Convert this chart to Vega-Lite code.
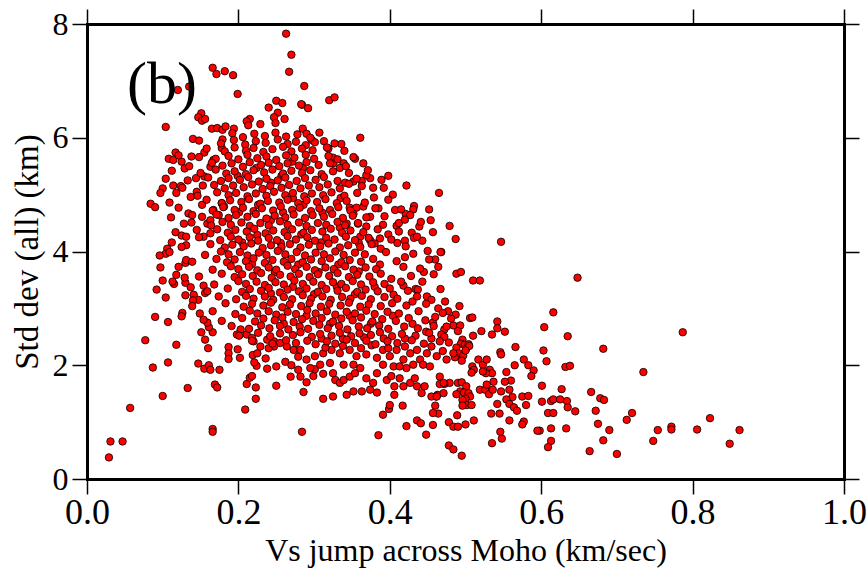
{
"$schema":"https://vega.github.io/schema/vega-lite/v6.json",
"width":757,"height":455,"autosize":"none",
"padding":{"left":87,"top":24,"right":24,"bottom":90},
"background":"white",
"config":{"view":{"stroke":null},"font":"Times New Roman, Liberation Serif, Times, DejaVu Serif, serif","axis":{"domainColor":"black","domainWidth":3,"domainCap":"square","tickColor":"black","tickWidth":1.5,"tickSize":15,"grid":false,"labelFont":"Times New Roman, Liberation Serif, Times, DejaVu Serif, serif","labelColor":"black","titleFont":"Times New Roman, Liberation Serif, Times, DejaVu Serif, serif","titleColor":"black","titleFontWeight":"normal","labelFlush":false,"labelOverlap":false,"labelBound":false}},
"datasets":{
"lbl":[{"label":"(b)","x":0.053,"y":6.61}],
"pts":[
{"x":0.648,"y":3.54},{"x":0.616,"y":2.93},{"x":0.604,"y":2.67},{"x":0.635,"y":2.51},{"x":0.603,"y":2.26},{"x":0.682,"y":2.29},{"x":0.787,"y":2.58},{"x":0.607,"y":2.07},{"x":0.632,"y":1.97},{"x":0.638,"y":1.99},{"x":0.735,"y":1.88},{"x":0.601,"y":1.64},{"x":0.627,"y":1.58},{"x":0.666,"y":1.53},{"x":0.601,"y":1.36},{"x":0.613,"y":1.37},{"x":0.616,"y":1.40},{"x":0.625,"y":1.40},{"x":0.634,"y":1.37},{"x":0.678,"y":1.42},{"x":0.683,"y":1.39},{"x":0.635,"y":1.26},{"x":0.609,"y":1.16},{"x":0.616,"y":1.16},{"x":0.645,"y":1.19},{"x":0.672,"y":1.20},{"x":0.720,"y":1.16},{"x":0.713,"y":1.04},{"x":0.823,"y":1.07},{"x":0.598,"y":0.85},{"x":0.613,"y":0.89},{"x":0.633,"y":0.89},{"x":0.675,"y":0.97},{"x":0.690,"y":0.86},{"x":0.754,"y":0.86},{"x":0.772,"y":0.92},{"x":0.772,"y":0.87},{"x":0.806,"y":0.87},{"x":0.862,"y":0.86},{"x":0.613,"y":0.67},{"x":0.609,"y":0.56},{"x":0.682,"y":0.68},{"x":0.748,"y":0.67},{"x":0.849,"y":0.62},{"x":0.664,"y":0.49},{"x":0.700,"y":0.44},
{"x":0.473,"y":3.12},{"x":0.464,"y":3.00},{"x":0.477,"y":2.95},{"x":0.487,"y":2.89},{"x":0.457,"y":2.75},{"x":0.506,"y":2.83},{"x":0.509,"y":2.84},{"x":0.484,"y":2.70},{"x":0.493,"y":2.70},{"x":0.521,"y":2.60},{"x":0.510,"y":2.52},{"x":0.542,"y":2.77},{"x":0.542,"y":2.65},{"x":0.552,"y":2.59},{"x":0.535,"y":2.54},{"x":0.472,"y":2.63},{"x":0.468,"y":2.54},{"x":0.472,"y":2.50},{"x":0.475,"y":2.68},
{"x":0.496,"y":2.45},{"x":0.494,"y":2.38},{"x":0.499,"y":2.36},{"x":0.504,"y":2.37},{"x":0.501,"y":2.29},{"x":0.505,"y":2.34},{"x":0.488,"y":2.31},{"x":0.491,"y":2.21},{"x":0.497,"y":2.17},{"x":0.486,"y":2.14},{"x":0.495,"y":2.08},{"x":0.500,"y":2.26},
{"x":0.546,"y":2.23},{"x":0.547,"y":2.19},{"x":0.566,"y":2.32},{"x":0.577,"y":2.10},{"x":0.583,"y":2.00},{"x":0.590,"y":1.91},{"x":0.587,"y":1.81},{"x":0.565,"y":2.00},{"x":0.554,"y":1.88},{"x":0.560,"y":1.73},{"x":0.552,"y":1.71},{"x":0.547,"y":1.54},{"x":0.558,"y":1.57},{"x":0.562,"y":1.44},{"x":0.575,"y":1.45},{"x":0.583,"y":1.46},{"x":0.580,"y":1.30},{"x":0.554,"y":1.40},{"x":0.558,"y":1.32},{"x":0.564,"y":1.26},{"x":0.568,"y":1.20},{"x":0.542,"y":1.32},{"x":0.534,"y":1.15},{"x":0.545,"y":1.15},{"x":0.558,"y":1.03},{"x":0.577,"y":1.01},{"x":0.575,"y":0.96},{"x":0.595,"y":0.85},{"x":0.548,"y":0.71},{"x":0.546,"y":0.83},{"x":0.535,"y":0.63},
{"x":0.517,"y":2.10},{"x":0.523,"y":2.01},{"x":0.528,"y":2.10},{"x":0.532,"y":1.92},{"x":0.535,"y":1.86},{"x":0.527,"y":1.86},{"x":0.523,"y":1.89},{"x":0.509,"y":1.98},{"x":0.511,"y":1.92},{"x":0.508,"y":1.87},
{"x":0.519,"y":1.57},{"x":0.526,"y":1.57},{"x":0.531,"y":1.49},{"x":0.536,"y":1.57},{"x":0.537,"y":1.71},{"x":0.528,"y":1.66},
{"x":0.490,"y":1.69},{"x":0.495,"y":1.70},{"x":0.501,"y":1.63},{"x":0.493,"y":1.54},{"x":0.498,"y":1.52},{"x":0.504,"y":1.51},{"x":0.506,"y":1.45},{"x":0.500,"y":1.41},{"x":0.496,"y":1.39},{"x":0.488,"y":1.49},{"x":0.502,"y":1.30},{"x":0.508,"y":1.30},{"x":0.496,"y":1.29},
{"x":0.479,"y":1.69},{"x":0.472,"y":1.67},{"x":0.466,"y":1.67},{"x":0.463,"y":1.48},{"x":0.461,"y":1.45},{"x":0.471,"y":1.51},{"x":0.460,"y":1.29},{"x":0.464,"y":1.15},{"x":0.457,"y":1.16},{"x":0.457,"y":0.95},{"x":0.448,"y":0.78},{"x":0.478,"y":1.00},{"x":0.489,"y":1.12},{"x":0.484,"y":0.92},{"x":0.490,"y":0.92},{"x":0.500,"y":0.96},{"x":0.511,"y":1.03},{"x":0.478,"y":0.59},{"x":0.484,"y":0.52},{"x":0.495,"y":0.41},
{"x":0.436,"y":1.03},{"x":0.441,"y":0.98},{"x":0.422,"y":0.93},{"x":0.385,"y":0.77},{"x":0.391,"y":1.13},{"x":0.399,"y":1.23},{"x":0.400,"y":1.30},{"x":0.417,"y":1.29},{"x":0.284,"y":0.83},{"x":0.312,"y":1.41},{"x":0.286,"y":1.53},
{"x":0.450,"y":4.01},{"x":0.460,"y":3.86},{"x":0.464,"y":3.73},{"x":0.468,"y":3.99},{"x":0.488,"y":3.61},{"x":0.494,"y":3.64},{"x":0.510,"y":3.49},{"x":0.519,"y":3.49},{"x":0.445,"y":3.64},{"x":0.443,"y":3.47},{"x":0.449,"y":3.21},{"x":0.434,"y":3.34},{"x":0.437,"y":3.33},
{"x":0.325,"y":1.45},{"x":0.343,"y":1.48},{"x":0.352,"y":1.54},{"x":0.363,"y":1.54},{"x":0.374,"y":1.57},{"x":0.383,"y":1.52},
{"x":0.299,"y":1.81},{"x":0.301,"y":1.93},{"x":0.312,"y":1.85},{"x":0.325,"y":1.86},{"x":0.328,"y":1.74},{"x":0.334,"y":1.69},{"x":0.339,"y":1.74},{"x":0.347,"y":1.80},{"x":0.354,"y":1.86},{"x":0.361,"y":1.95},{"x":0.369,"y":1.77},{"x":0.378,"y":1.69},{"x":0.383,"y":1.86},{"x":0.396,"y":1.74},{"x":0.402,"y":1.81},{"x":0.406,"y":1.63},{"x":0.406,"y":1.48},{"x":0.413,"y":1.77},{"x":0.418,"y":1.63},{"x":0.427,"y":1.69},{"x":0.433,"y":1.77},{"x":0.436,"y":1.63},{"x":0.442,"y":1.51},{"x":0.446,"y":1.63},{"x":0.455,"y":1.45},{"x":0.462,"y":1.45},{"x":0.466,"y":1.80},{"x":0.471,"y":1.69},
{"x":0.290,"y":2.10},{"x":0.301,"y":2.16},{"x":0.312,"y":2.21},{"x":0.323,"y":2.27},{"x":0.334,"y":2.21},{"x":0.347,"y":2.27},{"x":0.356,"y":2.16},{"x":0.369,"y":2.19},{"x":0.383,"y":2.13},{"x":0.391,"y":2.27},{"x":0.400,"y":2.16},{"x":0.409,"y":2.27},{"x":0.418,"y":2.10},{"x":0.427,"y":2.21},{"x":0.436,"y":2.27},{"x":0.440,"y":2.10},{"x":0.449,"y":2.21},{"x":0.455,"y":2.33},{"x":0.462,"y":2.16},{"x":0.475,"y":2.10},{"x":0.484,"y":2.21},{"x":0.391,"y":2.01},{"x":0.405,"y":1.98},{"x":0.422,"y":1.95},{"x":0.431,"y":2.01},{"x":0.444,"y":2.01},{"x":0.453,"y":1.98},{"x":0.413,"y":1.98},{"x":0.339,"y":2.01},{"x":0.321,"y":2.04},{"x":0.308,"y":2.01},{"x":0.352,"y":2.01},
{"x":0.315,"y":2.31},{"x":0.338,"y":2.34},{"x":0.362,"y":2.30},{"x":0.376,"y":2.35},{"x":0.420,"y":2.33},{"x":0.398,"y":2.30},
{"x":0.547,"y":4.17},{"x":0.465,"y":5.03},{"x":0.479,"y":4.45},{"x":0.487,"y":4.22},
{"x":0.452,"y":4.74},{"x":0.454,"y":4.55},{"x":0.457,"y":4.34},{"x":0.439,"y":4.44},{"x":0.429,"y":4.33},{"x":0.432,"y":4.24},{"x":0.420,"y":4.19},{"x":0.443,"y":4.19},{"x":0.467,"y":3.99},{"x":0.410,"y":4.15},{"x":0.409,"y":4.45},{"x":0.412,"y":4.50},{"x":0.421,"y":4.66},{"x":0.432,"y":4.80},{"x":0.431,"y":4.74},{"x":0.420,"y":4.56},{"x":0.407,"y":4.73},{"x":0.393,"y":4.62},{"x":0.385,"y":4.76},{"x":0.378,"y":5.12},{"x":0.379,"y":4.95},{"x":0.398,"y":5.33},{"x":0.422,"y":5.16},{"x":0.374,"y":5.29},
{"x":0.287,"y":6.91},{"x":0.320,"y":6.66},{"x":0.327,"y":6.71},{"x":0.284,"y":6.58},{"x":0.292,"y":6.52},{"x":0.285,"y":6.16},{"x":0.307,"y":6.09},{"x":0.290,"y":6.07},{"x":0.297,"y":5.96},{"x":0.301,"y":5.92},{"x":0.361,"y":6.00},{"x":0.336,"y":5.89},{"x":0.319,"y":5.81},{"x":0.354,"y":5.63},{"x":0.365,"y":5.55},{"x":0.325,"y":5.65},{"x":0.325,"y":5.55},{"x":0.339,"y":5.55},{"x":0.334,"y":5.47},{"x":0.369,"y":5.34},{"x":0.363,"y":5.24},{"x":0.352,"y":5.23},{"x":0.341,"y":5.21},{"x":0.346,"y":5.19},
{"x":0.347,"y":4.77},{"x":0.356,"y":4.77},{"x":0.352,"y":4.66},{"x":0.365,"y":4.79},{"x":0.369,"y":4.44},{"x":0.374,"y":4.61},{"x":0.358,"y":4.49},{"x":0.343,"y":4.49},{"x":0.361,"y":4.26},{"x":0.374,"y":4.20},{"x":0.387,"y":4.23},{"x":0.380,"y":4.14},
{"x":0.263,"y":7.83},{"x":0.270,"y":7.46},{"x":0.267,"y":7.16},{"x":0.166,"y":7.23},{"x":0.171,"y":7.12},{"x":0.182,"y":7.17},{"x":0.193,"y":7.10},{"x":0.199,"y":6.77},{"x":0.135,"y":6.90},{"x":0.120,"y":6.84},
{"x":0.283,"y":6.59},{"x":0.250,"y":6.65},{"x":0.258,"y":6.61},{"x":0.240,"y":6.53},{"x":0.252,"y":6.44},{"x":0.247,"y":6.36},{"x":0.261,"y":6.33},{"x":0.249,"y":6.26},{"x":0.229,"y":6.24},{"x":0.215,"y":6.33},{"x":0.211,"y":6.29},{"x":0.213,"y":6.22},
{"x":0.151,"y":6.43},{"x":0.147,"y":6.36},{"x":0.152,"y":6.30},{"x":0.156,"y":6.33},{"x":0.104,"y":6.19},
{"x":0.165,"y":6.16},{"x":0.172,"y":6.17},{"x":0.179,"y":6.14},{"x":0.183,"y":6.20},{"x":0.194,"y":6.16},
{"x":0.140,"y":5.98},{"x":0.178,"y":5.82},{"x":0.179,"y":5.97},
{"x":0.117,"y":5.74},{"x":0.108,"y":5.63},{"x":0.114,"y":5.61},{"x":0.125,"y":5.58},{"x":0.129,"y":5.46},{"x":0.138,"y":5.67},{"x":0.155,"y":5.74},{"x":0.148,"y":5.66},
{"x":0.104,"y":5.28},{"x":0.100,"y":5.11},{"x":0.097,"y":5.03},{"x":0.114,"y":5.16},{"x":0.124,"y":5.15},{"x":0.084,"y":4.84},{"x":0.090,"y":4.78},
{"x":0.144,"y":5.29},{"x":0.153,"y":5.16},{"x":0.155,"y":5.32},{"x":0.137,"y":4.96},{"x":0.145,"y":5.05},{"x":0.163,"y":5.49},{"x":0.167,"y":5.61},
{"x":0.128,"y":4.49},{"x":0.134,"y":4.67},{"x":0.139,"y":4.64},{"x":0.125,"y":4.28},{"x":0.131,"y":4.26},{"x":0.112,"y":4.16},{"x":0.131,"y":4.11},{"x":0.106,"y":4.05},{"x":0.104,"y":3.96},
{"x":0.152,"y":4.82},{"x":0.152,"y":4.61},{"x":0.159,"y":4.49},{"x":0.163,"y":4.55},{"x":0.145,"y":4.38},{"x":0.154,"y":4.26},{"x":0.163,"y":4.32},{"x":0.167,"y":4.73},{"x":0.178,"y":4.85},{"x":0.181,"y":4.79},{"x":0.174,"y":4.64},
{"x":0.029,"y":0.38},{"x":0.031,"y":0.66},{"x":0.047,"y":0.66},{"x":0.057,"y":1.25},{"x":0.100,"y":1.46},
{"x":0.087,"y":1.96},{"x":0.107,"y":2.05},{"x":0.077,"y":2.44},{"x":0.118,"y":2.36},{"x":0.090,"y":2.85},{"x":0.107,"y":2.76},{"x":0.104,"y":3.19},{"x":0.092,"y":3.33},{"x":0.100,"y":3.49},{"x":0.115,"y":3.43},{"x":0.097,"y":3.72},{"x":0.096,"y":3.93},
{"x":0.133,"y":1.60},{"x":0.169,"y":1.66},{"x":0.172,"y":1.61},{"x":0.166,"y":0.88},{"x":0.166,"y":0.83},
{"x":0.209,"y":1.22},{"x":0.223,"y":1.41},{"x":0.223,"y":1.61},{"x":0.211,"y":1.67},{"x":0.215,"y":1.78},{"x":0.218,"y":1.81},{"x":0.250,"y":1.64},{"x":0.238,"y":1.94},{"x":0.224,"y":1.99},{"x":0.221,"y":2.05},{"x":0.219,"y":2.18},{"x":0.225,"y":2.21},
{"x":0.147,"y":2.03},{"x":0.155,"y":1.94},{"x":0.161,"y":2.00},{"x":0.163,"y":1.92},{"x":0.175,"y":1.92},
{"x":0.187,"y":2.32},{"x":0.187,"y":2.21},{"x":0.187,"y":2.11},{"x":0.199,"y":2.28},{"x":0.202,"y":2.13},
{"x":0.151,"y":2.58},{"x":0.156,"y":2.45},{"x":0.160,"y":2.30},{"x":0.166,"y":2.58},{"x":0.161,"y":2.67},{"x":0.159,"y":2.75},{"x":0.154,"y":2.80},{"x":0.149,"y":2.91},{"x":0.126,"y":2.92},{"x":0.125,"y":2.86},
{"x":0.130,"y":3.23},{"x":0.141,"y":3.24},{"x":0.147,"y":3.15},{"x":0.140,"y":3.14},{"x":0.156,"y":3.27},{"x":0.154,"y":3.40},{"x":0.130,"y":3.45},{"x":0.137,"y":3.37},{"x":0.129,"y":3.54},{"x":0.130,"y":3.80},{"x":0.131,"y":3.85},{"x":0.118,"y":3.59},
{"x":0.282,"y":1.80},{"x":0.269,"y":1.80},
{"x":0.211,"y":2.54},{"x":0.218,"y":2.48},{"x":0.220,"y":2.42},{"x":0.238,"y":2.45},{"x":0.247,"y":2.42},{"x":0.255,"y":2.39},{"x":0.264,"y":2.33},{"x":0.273,"y":2.27},{"x":0.282,"y":2.27},{"x":0.247,"y":2.33},{"x":0.240,"y":2.30},{"x":0.229,"y":2.33},{"x":0.203,"y":2.63},{"x":0.198,"y":2.54},{"x":0.236,"y":2.12},{"x":0.262,"y":2.06},{"x":0.279,"y":2.15},{"x":0.250,"y":1.98},{"x":0.290,"y":1.70},{"x":0.295,"y":1.95},{"x":0.279,"y":1.92},{"x":0.270,"y":2.00},
{"x":0.224,"y":5.47},{"x":0.257,"y":5.33},{"x":0.285,"y":5.47},{"x":0.199,"y":5.33},{"x":0.243,"y":5.21},{"x":0.271,"y":5.58},
{"x":0.226,"y":4.82},{"x":0.259,"y":4.69},{"x":0.286,"y":4.82},{"x":0.311,"y":4.68},{"x":0.201,"y":4.69},{"x":0.243,"y":4.55},{"x":0.272,"y":4.94},{"x":0.335,"y":4.94},
{"x":0.225,"y":4.29},{"x":0.256,"y":4.15},{"x":0.283,"y":4.30},{"x":0.309,"y":4.16},{"x":0.334,"y":4.42},{"x":0.359,"y":4.15},{"x":0.205,"y":4.16},{"x":0.388,"y":4.05},{"x":0.398,"y":4.30},
{"x":0.218,"y":3.78},{"x":0.248,"y":3.64},{"x":0.279,"y":3.77},{"x":0.306,"y":3.64},{"x":0.332,"y":3.77},{"x":0.359,"y":3.65},{"x":0.387,"y":3.77},{"x":0.402,"y":3.52},{"x":0.440,"y":3.70},{"x":0.420,"y":3.90},
{"x":0.243,"y":3.26},{"x":0.272,"y":3.38},{"x":0.300,"y":3.25},{"x":0.330,"y":3.38},{"x":0.354,"y":3.25},{"x":0.380,"y":3.38},{"x":0.405,"y":3.24},{"x":0.418,"y":3.40},{"x":0.455,"y":3.15},{"x":0.430,"y":3.12},
{"x":0.260,"y":2.73},{"x":0.290,"y":2.87},{"x":0.321,"y":2.73},{"x":0.347,"y":2.87},{"x":0.375,"y":2.73},{"x":0.404,"y":2.87},{"x":0.430,"y":2.73},{"x":0.460,"y":2.85},{"x":0.490,"y":2.60},{"x":0.448,"y":2.59},
{"x":0.310,"y":2.47},{"x":0.338,"y":2.47},{"x":0.366,"y":2.49},{"x":0.392,"y":2.47},{"x":0.420,"y":2.47},{"x":0.455,"y":2.47},{"x":0.478,"y":2.40},{"x":0.470,"y":2.25},
{"x":0.192,"y":6.08},{"x":0.206,"y":6.01},{"x":0.221,"y":6.07},{"x":0.235,"y":6.03},{"x":0.249,"y":6.09},{"x":0.263,"y":6.02},{"x":0.278,"y":6.06},{"x":0.295,"y":6.00},
{"x":0.148,"y":5.95},{"x":0.177,"y":5.90},{"x":0.194,"y":5.96},{"x":0.209,"y":5.88},{"x":0.223,"y":5.94},{"x":0.236,"y":5.91},{"x":0.252,"y":5.97},{"x":0.265,"y":5.89},{"x":0.276,"y":5.93},{"x":0.289,"y":5.87},{"x":0.313,"y":5.94},{"x":0.327,"y":5.90},
{"x":0.158,"y":5.81},{"x":0.182,"y":5.76},{"x":0.195,"y":5.83},{"x":0.210,"y":5.77},{"x":0.220,"y":5.82},{"x":0.233,"y":5.75},{"x":0.245,"y":5.80},{"x":0.259,"y":5.84},{"x":0.270,"y":5.76},{"x":0.284,"y":5.81},{"x":0.298,"y":5.78},{"x":0.317,"y":5.83},{"x":0.340,"y":5.77},
{"x":0.121,"y":5.69},{"x":0.170,"y":5.63},{"x":0.187,"y":5.68},{"x":0.200,"y":5.62},{"x":0.212,"y":5.70},{"x":0.225,"y":5.64},{"x":0.237,"y":5.67},{"x":0.250,"y":5.61},{"x":0.263,"y":5.69},{"x":0.274,"y":5.65},{"x":0.289,"y":5.70},{"x":0.300,"y":5.63},{"x":0.319,"y":5.68},{"x":0.331,"y":5.62},{"x":0.352,"y":5.66},
{"x":0.135,"y":5.50},{"x":0.165,"y":5.56},{"x":0.179,"y":5.51},{"x":0.191,"y":5.55},{"x":0.206,"y":5.49},{"x":0.215,"y":5.57},{"x":0.230,"y":5.52},{"x":0.240,"y":5.56},{"x":0.254,"y":5.50},{"x":0.265,"y":5.55},{"x":0.280,"y":5.51},{"x":0.290,"y":5.57},{"x":0.306,"y":5.52},{"x":0.321,"y":5.55},{"x":0.342,"y":5.50},
{"x":0.112,"y":5.42},{"x":0.150,"y":5.38},{"x":0.170,"y":5.44},{"x":0.184,"y":5.37},{"x":0.195,"y":5.41},{"x":0.210,"y":5.36},{"x":0.220,"y":5.43},{"x":0.234,"y":5.39},{"x":0.245,"y":5.44},{"x":0.259,"y":5.37},{"x":0.270,"y":5.42},{"x":0.284,"y":5.38},{"x":0.295,"y":5.43},{"x":0.310,"y":5.36},{"x":0.325,"y":5.41},{"x":0.346,"y":5.38},{"x":0.371,"y":5.43},
{"x":0.133,"y":5.25},{"x":0.160,"y":5.30},{"x":0.177,"y":5.24},{"x":0.187,"y":5.29},{"x":0.202,"y":5.26},{"x":0.213,"y":5.31},{"x":0.227,"y":5.23},{"x":0.237,"y":5.28},{"x":0.252,"y":5.25},{"x":0.262,"y":5.30},{"x":0.277,"y":5.24},{"x":0.288,"y":5.29},{"x":0.302,"y":5.26},{"x":0.313,"y":5.31},{"x":0.331,"y":5.24},{"x":0.356,"y":5.28},{"x":0.389,"y":5.26},
{"x":0.126,"y":5.12},{"x":0.168,"y":5.17},{"x":0.182,"y":5.11},{"x":0.193,"y":5.16},{"x":0.207,"y":5.13},{"x":0.218,"y":5.18},{"x":0.232,"y":5.10},{"x":0.242,"y":5.15},{"x":0.257,"y":5.12},{"x":0.267,"y":5.17},{"x":0.282,"y":5.11},{"x":0.293,"y":5.16},{"x":0.307,"y":5.13},{"x":0.318,"y":5.18},{"x":0.334,"y":5.11},{"x":0.363,"y":5.15},{"x":0.392,"y":5.12},
{"x":0.118,"y":5.03},{"x":0.146,"y":4.98},{"x":0.172,"y":5.04},{"x":0.187,"y":4.99},{"x":0.197,"y":5.03},{"x":0.212,"y":4.97},{"x":0.223,"y":5.02},{"x":0.237,"y":4.98},{"x":0.247,"y":5.05},{"x":0.262,"y":4.99},{"x":0.272,"y":5.03},{"x":0.287,"y":4.97},{"x":0.297,"y":5.02},{"x":0.312,"y":4.99},{"x":0.323,"y":5.04},{"x":0.340,"y":4.98},{"x":0.357,"y":5.03},{"x":0.404,"y":5.00},
{"x":0.109,"y":4.86},{"x":0.158,"y":4.91},{"x":0.178,"y":4.85},{"x":0.189,"y":4.90},{"x":0.204,"y":4.87},{"x":0.214,"y":4.92},{"x":0.229,"y":4.84},{"x":0.239,"y":4.89},{"x":0.254,"y":4.86},{"x":0.265,"y":4.91},{"x":0.279,"y":4.85},{"x":0.290,"y":4.90},{"x":0.304,"y":4.87},{"x":0.315,"y":4.92},{"x":0.330,"y":4.85},{"x":0.343,"y":4.89},{"x":0.367,"y":4.86},{"x":0.398,"y":4.91},
{"x":0.121,"y":4.77},{"x":0.166,"y":4.72},{"x":0.180,"y":4.78},{"x":0.195,"y":4.73},{"x":0.206,"y":4.77},{"x":0.220,"y":4.71},{"x":0.231,"y":4.76},{"x":0.246,"y":4.72},{"x":0.256,"y":4.79},{"x":0.271,"y":4.73},{"x":0.281,"y":4.77},{"x":0.296,"y":4.71},{"x":0.307,"y":4.76},{"x":0.321,"y":4.73},{"x":0.332,"y":4.78},{"x":0.348,"y":4.72},{"x":0.381,"y":4.76},{"x":0.415,"y":4.74},
{"x":0.111,"y":4.60},{"x":0.171,"y":4.65},{"x":0.187,"y":4.59},{"x":0.197,"y":4.64},{"x":0.212,"y":4.61},{"x":0.223,"y":4.66},{"x":0.237,"y":4.58},{"x":0.248,"y":4.63},{"x":0.262,"y":4.60},{"x":0.273,"y":4.65},{"x":0.288,"y":4.59},{"x":0.298,"y":4.64},{"x":0.313,"y":4.61},{"x":0.324,"y":4.66},{"x":0.338,"y":4.59},{"x":0.351,"y":4.63},{"x":0.369,"y":4.60},{"x":0.427,"y":4.64},
{"x":0.138,"y":4.51},{"x":0.164,"y":4.46},{"x":0.179,"y":4.52},{"x":0.190,"y":4.47},{"x":0.204,"y":4.51},{"x":0.215,"y":4.45},{"x":0.229,"y":4.50},{"x":0.240,"y":4.46},{"x":0.255,"y":4.53},{"x":0.265,"y":4.47},{"x":0.280,"y":4.51},{"x":0.290,"y":4.45},{"x":0.305,"y":4.50},{"x":0.316,"y":4.47},{"x":0.331,"y":4.52},{"x":0.341,"y":4.46},{"x":0.358,"y":4.50},{"x":0.391,"y":4.47},{"x":0.441,"y":4.52},
{"x":0.117,"y":4.34},{"x":0.172,"y":4.39},{"x":0.186,"y":4.33},{"x":0.196,"y":4.38},{"x":0.211,"y":4.35},{"x":0.221,"y":4.40},{"x":0.236,"y":4.32},{"x":0.246,"y":4.37},{"x":0.261,"y":4.34},{"x":0.271,"y":4.39},{"x":0.286,"y":4.33},{"x":0.297,"y":4.38},{"x":0.311,"y":4.35},{"x":0.322,"y":4.40},{"x":0.337,"y":4.33},{"x":0.348,"y":4.37},{"x":0.365,"y":4.34},{"x":0.384,"y":4.39},{"x":0.412,"y":4.35},
{"x":0.148,"y":4.25},{"x":0.176,"y":4.20},{"x":0.190,"y":4.26},{"x":0.200,"y":4.21},{"x":0.215,"y":4.25},{"x":0.226,"y":4.19},{"x":0.240,"y":4.24},{"x":0.251,"y":4.20},{"x":0.265,"y":4.27},{"x":0.276,"y":4.21},{"x":0.291,"y":4.25},{"x":0.301,"y":4.19},{"x":0.316,"y":4.24},{"x":0.327,"y":4.21},{"x":0.342,"y":4.26},{"x":0.354,"y":4.20},{"x":0.372,"y":4.24},{"x":0.402,"y":4.21},{"x":0.436,"y":4.26},
{"x":0.125,"y":4.08},{"x":0.163,"y":4.13},{"x":0.182,"y":4.07},{"x":0.192,"y":4.12},{"x":0.207,"y":4.09},{"x":0.217,"y":4.14},{"x":0.232,"y":4.06},{"x":0.243,"y":4.11},{"x":0.257,"y":4.08},{"x":0.268,"y":4.13},{"x":0.282,"y":4.07},{"x":0.293,"y":4.12},{"x":0.308,"y":4.09},{"x":0.319,"y":4.14},{"x":0.334,"y":4.07},{"x":0.345,"y":4.11},{"x":0.361,"y":4.08},{"x":0.376,"y":4.13},{"x":0.421,"y":4.09},
{"x":0.109,"y":3.99},{"x":0.156,"y":3.94},{"x":0.177,"y":4.00},{"x":0.187,"y":3.95},{"x":0.202,"y":3.99},{"x":0.212,"y":3.93},{"x":0.227,"y":3.98},{"x":0.237,"y":3.94},{"x":0.252,"y":4.01},{"x":0.262,"y":3.95},{"x":0.277,"y":3.99},{"x":0.288,"y":3.93},{"x":0.302,"y":3.98},{"x":0.313,"y":3.95},{"x":0.328,"y":4.00},{"x":0.339,"y":3.94},{"x":0.354,"y":3.98},{"x":0.367,"y":3.95},{"x":0.395,"y":3.99},{"x":0.431,"y":3.96},
{"x":0.139,"y":3.82},{"x":0.171,"y":3.87},{"x":0.185,"y":3.81},{"x":0.195,"y":3.86},{"x":0.210,"y":3.83},{"x":0.220,"y":3.88},{"x":0.235,"y":3.80},{"x":0.245,"y":3.85},{"x":0.260,"y":3.82},{"x":0.270,"y":3.87},{"x":0.285,"y":3.81},{"x":0.296,"y":3.86},{"x":0.310,"y":3.83},{"x":0.321,"y":3.88},{"x":0.336,"y":3.81},{"x":0.347,"y":3.85},{"x":0.362,"y":3.82},{"x":0.378,"y":3.87},{"x":0.409,"y":3.83},{"x":0.452,"y":3.86},
{"x":0.121,"y":3.73},{"x":0.166,"y":3.68},{"x":0.190,"y":3.74},{"x":0.200,"y":3.69},{"x":0.214,"y":3.73},{"x":0.225,"y":3.67},{"x":0.240,"y":3.72},{"x":0.250,"y":3.68},{"x":0.265,"y":3.75},{"x":0.275,"y":3.69},{"x":0.290,"y":3.73},{"x":0.301,"y":3.67},{"x":0.315,"y":3.72},{"x":0.326,"y":3.69},{"x":0.341,"y":3.74},{"x":0.352,"y":3.68},{"x":0.368,"y":3.72},{"x":0.382,"y":3.69},{"x":0.418,"y":3.73},
{"x":0.148,"y":3.56},{"x":0.178,"y":3.61},{"x":0.195,"y":3.55},{"x":0.205,"y":3.60},{"x":0.219,"y":3.57},{"x":0.230,"y":3.62},{"x":0.244,"y":3.54},{"x":0.255,"y":3.59},{"x":0.269,"y":3.56},{"x":0.280,"y":3.61},{"x":0.294,"y":3.55},{"x":0.305,"y":3.60},{"x":0.320,"y":3.57},{"x":0.331,"y":3.62},{"x":0.346,"y":3.55},{"x":0.357,"y":3.59},{"x":0.373,"y":3.56},{"x":0.388,"y":3.61},{"x":0.428,"y":3.57},{"x":0.458,"y":3.60},
{"x":0.113,"y":3.47},{"x":0.168,"y":3.42},{"x":0.200,"y":3.48},{"x":0.210,"y":3.43},{"x":0.224,"y":3.47},{"x":0.235,"y":3.41},{"x":0.249,"y":3.46},{"x":0.260,"y":3.42},{"x":0.274,"y":3.49},{"x":0.285,"y":3.43},{"x":0.299,"y":3.47},{"x":0.310,"y":3.41},{"x":0.325,"y":3.46},{"x":0.336,"y":3.43},{"x":0.351,"y":3.48},{"x":0.362,"y":3.42},{"x":0.378,"y":3.46},{"x":0.393,"y":3.43},{"x":0.415,"y":3.47},
{"x":0.159,"y":3.30},{"x":0.186,"y":3.35},{"x":0.205,"y":3.29},{"x":0.215,"y":3.34},{"x":0.230,"y":3.31},{"x":0.240,"y":3.36},{"x":0.255,"y":3.28},{"x":0.265,"y":3.33},{"x":0.280,"y":3.30},{"x":0.290,"y":3.35},{"x":0.305,"y":3.29},{"x":0.316,"y":3.34},{"x":0.331,"y":3.31},{"x":0.342,"y":3.36},{"x":0.357,"y":3.29},{"x":0.368,"y":3.33},{"x":0.384,"y":3.30},{"x":0.400,"y":3.35},{"x":0.424,"y":3.31},{"x":0.467,"y":3.34},
{"x":0.174,"y":3.21},{"x":0.197,"y":3.16},{"x":0.210,"y":3.22},{"x":0.220,"y":3.17},{"x":0.235,"y":3.21},{"x":0.246,"y":3.15},{"x":0.260,"y":3.20},{"x":0.271,"y":3.16},{"x":0.285,"y":3.23},{"x":0.296,"y":3.17},{"x":0.311,"y":3.21},{"x":0.322,"y":3.15},{"x":0.337,"y":3.20},{"x":0.348,"y":3.17},{"x":0.363,"y":3.22},{"x":0.375,"y":3.16},{"x":0.393,"y":3.20},{"x":0.410,"y":3.17},{"x":0.436,"y":3.21},
{"x":0.139,"y":3.04},{"x":0.183,"y":3.09},{"x":0.207,"y":3.03},{"x":0.218,"y":3.08},{"x":0.233,"y":3.05},{"x":0.243,"y":3.10},{"x":0.258,"y":3.02},{"x":0.268,"y":3.07},{"x":0.283,"y":3.04},{"x":0.294,"y":3.09},{"x":0.309,"y":3.03},{"x":0.320,"y":3.08},{"x":0.335,"y":3.05},{"x":0.346,"y":3.10},{"x":0.361,"y":3.03},{"x":0.372,"y":3.07},{"x":0.388,"y":3.04},{"x":0.403,"y":3.09},{"x":0.422,"y":3.05},{"x":0.448,"y":3.08},{"x":0.492,"y":3.04},
{"x":0.166,"y":2.95},{"x":0.196,"y":2.90},{"x":0.215,"y":2.96},{"x":0.225,"y":2.91},{"x":0.240,"y":2.95},{"x":0.250,"y":2.89},{"x":0.265,"y":2.94},{"x":0.276,"y":2.90},{"x":0.291,"y":2.97},{"x":0.302,"y":2.91},{"x":0.317,"y":2.95},{"x":0.328,"y":2.89},{"x":0.343,"y":2.94},{"x":0.354,"y":2.91},{"x":0.369,"y":2.96},{"x":0.380,"y":2.90},{"x":0.397,"y":2.94},{"x":0.412,"y":2.91},{"x":0.438,"y":2.95},{"x":0.470,"y":2.92},
{"x":0.178,"y":2.78},{"x":0.205,"y":2.83},{"x":0.222,"y":2.77},{"x":0.233,"y":2.82},{"x":0.248,"y":2.79},{"x":0.258,"y":2.84},{"x":0.273,"y":2.76},{"x":0.284,"y":2.81},{"x":0.299,"y":2.78},{"x":0.310,"y":2.83},{"x":0.325,"y":2.77},{"x":0.336,"y":2.82},{"x":0.351,"y":2.79},{"x":0.362,"y":2.84},{"x":0.377,"y":2.77},{"x":0.390,"y":2.81},{"x":0.408,"y":2.78},{"x":0.425,"y":2.83},{"x":0.447,"y":2.79},{"x":0.481,"y":2.82},
{"x":0.191,"y":2.69},{"x":0.214,"y":2.64},{"x":0.230,"y":2.70},{"x":0.241,"y":2.65},{"x":0.255,"y":2.69},{"x":0.266,"y":2.63},{"x":0.281,"y":2.68},{"x":0.292,"y":2.64},{"x":0.307,"y":2.71},{"x":0.318,"y":2.65},{"x":0.333,"y":2.69},{"x":0.344,"y":2.63},{"x":0.359,"y":2.68},{"x":0.370,"y":2.65},{"x":0.386,"y":2.70},{"x":0.398,"y":2.64},{"x":0.419,"y":2.68},{"x":0.437,"y":2.65},{"x":0.458,"y":2.69},
{"x":0.201,"y":2.52},{"x":0.226,"y":2.57},{"x":0.242,"y":2.51},{"x":0.255,"y":2.56},{"x":0.272,"y":2.53},{"x":0.282,"y":2.58},{"x":0.297,"y":2.50},{"x":0.308,"y":2.55},{"x":0.323,"y":2.52},{"x":0.334,"y":2.57},{"x":0.349,"y":2.51},{"x":0.360,"y":2.56},{"x":0.375,"y":2.53},{"x":0.387,"y":2.58},{"x":0.403,"y":2.51},{"x":0.416,"y":2.55},{"x":0.434,"y":2.52},{"x":0.452,"y":2.57},
{"x":0.218,"y":2.43},{"x":0.245,"y":2.38},{"x":0.263,"y":2.44},{"x":0.276,"y":2.39},{"x":0.291,"y":2.43},{"x":0.302,"y":2.37},{"x":0.317,"y":2.42},{"x":0.328,"y":2.38},{"x":0.343,"y":2.45},{"x":0.354,"y":2.39},{"x":0.369,"y":2.43},{"x":0.381,"y":2.37},{"x":0.397,"y":2.42},{"x":0.410,"y":2.39},{"x":0.429,"y":2.44},{"x":0.445,"y":2.38},{"x":0.466,"y":2.42}
]},
"layer":[
{"data":{"name":"pts"},
 "mark":{"type":"point","shape":"circle","filled":true,"size":56,"fill":"#ff0000","stroke":"black","strokeWidth":0.8,"opacity":1},
 "encoding":{
  "x":{"field":"x","type":"quantitative","scale":{"domain":[0,1],"nice":false,"zero":false},
       "axis":{"orient":"bottom","values":[0,0.2,0.4,0.6,0.8,1],"format":".1f","labelFontSize":36,"labelPadding":1,"title":"Vs jump across Moho (km/sec)","titleFontSize":32,"titleBaseline":"alphabetic","titleY":81}},
  "y":{"field":"y","type":"quantitative","scale":{"domain":[0,8],"nice":false,"zero":false},
       "axis":{"orient":"left","values":[0,2,4,6,8],"labelFontSize":32,"labelPadding":4,"title":"Std dev (all) (km)","titleFontSize":33,"titleBaseline":"alphabetic","titleX":-50}}
 }},
{"data":{"name":"lbl"},
 "mark":{"type":"text","font":"Times New Roman, Liberation Serif, Times, DejaVu Serif, serif","fontSize":60,"align":"left","baseline":"alphabetic","color":"black"},
 "encoding":{
  "x":{"field":"x","type":"quantitative","axis":{"orient":"top","values":[0,0.2,0.4,0.6,0.8,1],"labels":false,"title":null}},
  "y":{"field":"y","type":"quantitative","axis":{"orient":"right","values":[0,2,4,6,8],"labels":false,"title":null}},
  "text":{"field":"label"}
 }}
],
"resolve":{"axis":{"x":"independent","y":"independent"}}
}
